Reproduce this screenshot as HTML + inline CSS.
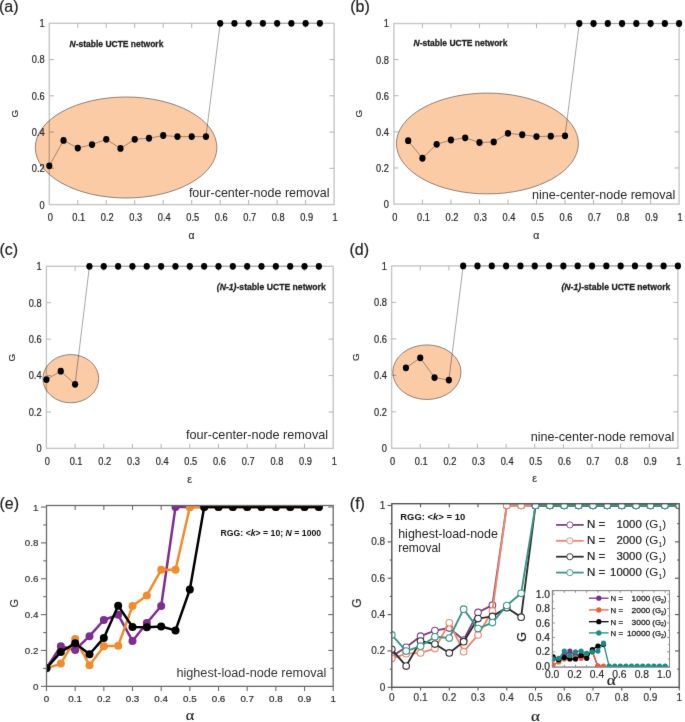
<!DOCTYPE html>
<html><head><meta charset="utf-8"><style>
html,body{margin:0;padding:0;background:#fff;width:685px;height:722px;overflow:hidden;}
svg{display:block;}

</style></head><body>
<svg width="685" height="722" viewBox="0 0 685 722" font-family='"Liberation Sans", sans-serif'>
<defs><filter id="soft" x="0" y="0" width="100%" height="100%" color-interpolation-filters="sRGB"><feConvolveMatrix order="3" kernelMatrix="0.00524 0.06192 0.00524 0.06192 0.73137 0.06192 0.00524 0.06192 0.00524" edgeMode="duplicate"/></filter></defs>
<g filter="url(#soft)">
<rect width="685" height="722" fill="#fff"/>
<ellipse cx="126.1" cy="147.5" rx="90.8" ry="50.5" fill="#FBCBA6" stroke="#85766c" stroke-width="0.9"/>
<g style="mix-blend-mode:multiply">
<rect x="49.3" y="23.3" width="284.8" height="181.3" fill="none" stroke="#c6c6c6" stroke-width="1.4"/>
<line x1="77.78" y1="204.6" x2="77.78" y2="200" stroke="#b4b4b4" stroke-width="1" />
<line x1="77.78" y1="23.3" x2="77.78" y2="27.9" stroke="#b4b4b4" stroke-width="1" />
<line x1="106.26" y1="204.6" x2="106.26" y2="200" stroke="#b4b4b4" stroke-width="1" />
<line x1="106.26" y1="23.3" x2="106.26" y2="27.9" stroke="#b4b4b4" stroke-width="1" />
<line x1="134.74" y1="204.6" x2="134.74" y2="200" stroke="#b4b4b4" stroke-width="1" />
<line x1="134.74" y1="23.3" x2="134.74" y2="27.9" stroke="#b4b4b4" stroke-width="1" />
<line x1="163.22" y1="204.6" x2="163.22" y2="200" stroke="#b4b4b4" stroke-width="1" />
<line x1="163.22" y1="23.3" x2="163.22" y2="27.9" stroke="#b4b4b4" stroke-width="1" />
<line x1="191.7" y1="204.6" x2="191.7" y2="200" stroke="#b4b4b4" stroke-width="1" />
<line x1="191.7" y1="23.3" x2="191.7" y2="27.9" stroke="#b4b4b4" stroke-width="1" />
<line x1="220.18" y1="204.6" x2="220.18" y2="200" stroke="#b4b4b4" stroke-width="1" />
<line x1="220.18" y1="23.3" x2="220.18" y2="27.9" stroke="#b4b4b4" stroke-width="1" />
<line x1="248.66" y1="204.6" x2="248.66" y2="200" stroke="#b4b4b4" stroke-width="1" />
<line x1="248.66" y1="23.3" x2="248.66" y2="27.9" stroke="#b4b4b4" stroke-width="1" />
<line x1="277.14" y1="204.6" x2="277.14" y2="200" stroke="#b4b4b4" stroke-width="1" />
<line x1="277.14" y1="23.3" x2="277.14" y2="27.9" stroke="#b4b4b4" stroke-width="1" />
<line x1="305.62" y1="204.6" x2="305.62" y2="200" stroke="#b4b4b4" stroke-width="1" />
<line x1="305.62" y1="23.3" x2="305.62" y2="27.9" stroke="#b4b4b4" stroke-width="1" />
<line x1="49.3" y1="168.34" x2="53.9" y2="168.34" stroke="#b4b4b4" stroke-width="1" />
<line x1="334.1" y1="168.34" x2="329.5" y2="168.34" stroke="#b4b4b4" stroke-width="1" />
<line x1="49.3" y1="132.08" x2="53.9" y2="132.08" stroke="#b4b4b4" stroke-width="1" />
<line x1="334.1" y1="132.08" x2="329.5" y2="132.08" stroke="#b4b4b4" stroke-width="1" />
<line x1="49.3" y1="95.82" x2="53.9" y2="95.82" stroke="#b4b4b4" stroke-width="1" />
<line x1="334.1" y1="95.82" x2="329.5" y2="95.82" stroke="#b4b4b4" stroke-width="1" />
<line x1="49.3" y1="59.56" x2="53.9" y2="59.56" stroke="#b4b4b4" stroke-width="1" />
<line x1="334.1" y1="59.56" x2="329.5" y2="59.56" stroke="#b4b4b4" stroke-width="1" />
<polyline points="49.3,165.87 63.54,140.42 77.78,148.03 92.02,144.59 106.26,139.33 120.5,148.4 134.74,139.33 148.98,138.24 163.22,135.52 177.46,136.61 191.7,136.61 205.94,136.61 220.18,23.3 234.42,23.3 248.66,23.3 262.9,23.3 277.14,23.3 291.38,23.3 305.62,23.3 319.86,23.3" fill="none" stroke="#a6a6a6" stroke-width="1" stroke-linejoin="round" />
</g>
<ellipse cx="49.3" cy="165.87" rx="3.1" ry="3.4" fill="#000"/>
<ellipse cx="63.54" cy="140.42" rx="3.1" ry="3.4" fill="#000"/>
<ellipse cx="77.78" cy="148.03" rx="3.1" ry="3.4" fill="#000"/>
<ellipse cx="92.02" cy="144.59" rx="3.1" ry="3.4" fill="#000"/>
<ellipse cx="106.26" cy="139.33" rx="3.1" ry="3.4" fill="#000"/>
<ellipse cx="120.5" cy="148.4" rx="3.1" ry="3.4" fill="#000"/>
<ellipse cx="134.74" cy="139.33" rx="3.1" ry="3.4" fill="#000"/>
<ellipse cx="148.98" cy="138.24" rx="3.1" ry="3.4" fill="#000"/>
<ellipse cx="163.22" cy="135.52" rx="3.1" ry="3.4" fill="#000"/>
<ellipse cx="177.46" cy="136.61" rx="3.1" ry="3.4" fill="#000"/>
<ellipse cx="191.7" cy="136.61" rx="3.1" ry="3.4" fill="#000"/>
<ellipse cx="205.94" cy="136.61" rx="3.1" ry="3.4" fill="#000"/>
<ellipse cx="220.18" cy="23.3" rx="3.1" ry="3.4" fill="#000"/>
<ellipse cx="234.42" cy="23.3" rx="3.1" ry="3.4" fill="#000"/>
<ellipse cx="248.66" cy="23.3" rx="3.1" ry="3.4" fill="#000"/>
<ellipse cx="262.9" cy="23.3" rx="3.1" ry="3.4" fill="#000"/>
<ellipse cx="277.14" cy="23.3" rx="3.1" ry="3.4" fill="#000"/>
<ellipse cx="291.38" cy="23.3" rx="3.1" ry="3.4" fill="#000"/>
<ellipse cx="305.62" cy="23.3" rx="3.1" ry="3.4" fill="#000"/>
<ellipse cx="319.86" cy="23.3" rx="3.1" ry="3.4" fill="#000"/>
<text transform="translate(50.3,220.7) scale(0.9,1)" font-size="10.3" text-anchor="middle" fill="#262626" stroke="#262626" stroke-width="0.2">0</text>
<text transform="translate(78.78,220.7) scale(0.9,1)" font-size="10.3" text-anchor="middle" fill="#262626" stroke="#262626" stroke-width="0.2">0.1</text>
<text transform="translate(107.26,220.7) scale(0.9,1)" font-size="10.3" text-anchor="middle" fill="#262626" stroke="#262626" stroke-width="0.2">0.2</text>
<text transform="translate(135.74,220.7) scale(0.9,1)" font-size="10.3" text-anchor="middle" fill="#262626" stroke="#262626" stroke-width="0.2">0.3</text>
<text transform="translate(164.22,220.7) scale(0.9,1)" font-size="10.3" text-anchor="middle" fill="#262626" stroke="#262626" stroke-width="0.2">0.4</text>
<text transform="translate(192.7,220.7) scale(0.9,1)" font-size="10.3" text-anchor="middle" fill="#262626" stroke="#262626" stroke-width="0.2">0.5</text>
<text transform="translate(221.18,220.7) scale(0.9,1)" font-size="10.3" text-anchor="middle" fill="#262626" stroke="#262626" stroke-width="0.2">0.6</text>
<text transform="translate(249.66,220.7) scale(0.9,1)" font-size="10.3" text-anchor="middle" fill="#262626" stroke="#262626" stroke-width="0.2">0.7</text>
<text transform="translate(278.14,220.7) scale(0.9,1)" font-size="10.3" text-anchor="middle" fill="#262626" stroke="#262626" stroke-width="0.2">0.8</text>
<text transform="translate(306.62,220.7) scale(0.9,1)" font-size="10.3" text-anchor="middle" fill="#262626" stroke="#262626" stroke-width="0.2">0.9</text>
<text transform="translate(335.1,220.7) scale(0.9,1)" font-size="10.3" text-anchor="middle" fill="#262626" stroke="#262626" stroke-width="0.2">1</text>
<text transform="translate(44.7,208.5) scale(0.9,1)" font-size="10.3" text-anchor="end" fill="#262626" stroke="#262626" stroke-width="0.2">0</text>
<text transform="translate(44.7,172.24) scale(0.9,1)" font-size="10.3" text-anchor="end" fill="#262626" stroke="#262626" stroke-width="0.2">0.2</text>
<text transform="translate(44.7,135.98) scale(0.9,1)" font-size="10.3" text-anchor="end" fill="#262626" stroke="#262626" stroke-width="0.2">0.4</text>
<text transform="translate(44.7,99.72) scale(0.9,1)" font-size="10.3" text-anchor="end" fill="#262626" stroke="#262626" stroke-width="0.2">0.6</text>
<text transform="translate(44.7,63.46) scale(0.9,1)" font-size="10.3" text-anchor="end" fill="#262626" stroke="#262626" stroke-width="0.2">0.8</text>
<text transform="translate(44.7,27.2) scale(0.9,1)" font-size="10.3" text-anchor="end" fill="#262626" stroke="#262626" stroke-width="0.2">1</text>
<text x="191.5" y="239.3" font-size="10.5" text-anchor="middle" fill="#333" stroke="#333" stroke-width="0.2">α</text>
<text transform="translate(17.6,113.6) rotate(-90)" font-size="9.8" text-anchor="middle" fill="#333" stroke="#333" stroke-width="0.2">G</text>
<text x="-1" y="11.8" font-size="16" fill="#222" stroke="#222" stroke-width="0.2">(a)</text>
<text x="69.6" y="46.6" font-size="9.3" font-weight="bold" fill="#1e1e1e" stroke="#1e1e1e" stroke-width="0.3" textLength="93.8" lengthAdjust="spacingAndGlyphs"><tspan font-style="italic">N</tspan>-stable UCTE network</text>
<text x="188.9" y="196.7" font-size="11.9" fill="#262626" textLength="140.6" lengthAdjust="spacingAndGlyphs">four-center-node removal</text>
<ellipse cx="487.4" cy="143.5" rx="91" ry="50.4" fill="#FBCBA6" stroke="#85766c" stroke-width="0.9"/>
<g style="mix-blend-mode:multiply">
<rect x="393.9" y="23.5" width="285.2" height="180.6" fill="none" stroke="#c6c6c6" stroke-width="1.4"/>
<line x1="422.42" y1="204.1" x2="422.42" y2="199.5" stroke="#b4b4b4" stroke-width="1" />
<line x1="422.42" y1="23.5" x2="422.42" y2="28.1" stroke="#b4b4b4" stroke-width="1" />
<line x1="450.94" y1="204.1" x2="450.94" y2="199.5" stroke="#b4b4b4" stroke-width="1" />
<line x1="450.94" y1="23.5" x2="450.94" y2="28.1" stroke="#b4b4b4" stroke-width="1" />
<line x1="479.46" y1="204.1" x2="479.46" y2="199.5" stroke="#b4b4b4" stroke-width="1" />
<line x1="479.46" y1="23.5" x2="479.46" y2="28.1" stroke="#b4b4b4" stroke-width="1" />
<line x1="507.98" y1="204.1" x2="507.98" y2="199.5" stroke="#b4b4b4" stroke-width="1" />
<line x1="507.98" y1="23.5" x2="507.98" y2="28.1" stroke="#b4b4b4" stroke-width="1" />
<line x1="536.5" y1="204.1" x2="536.5" y2="199.5" stroke="#b4b4b4" stroke-width="1" />
<line x1="536.5" y1="23.5" x2="536.5" y2="28.1" stroke="#b4b4b4" stroke-width="1" />
<line x1="565.02" y1="204.1" x2="565.02" y2="199.5" stroke="#b4b4b4" stroke-width="1" />
<line x1="565.02" y1="23.5" x2="565.02" y2="28.1" stroke="#b4b4b4" stroke-width="1" />
<line x1="593.54" y1="204.1" x2="593.54" y2="199.5" stroke="#b4b4b4" stroke-width="1" />
<line x1="593.54" y1="23.5" x2="593.54" y2="28.1" stroke="#b4b4b4" stroke-width="1" />
<line x1="622.06" y1="204.1" x2="622.06" y2="199.5" stroke="#b4b4b4" stroke-width="1" />
<line x1="622.06" y1="23.5" x2="622.06" y2="28.1" stroke="#b4b4b4" stroke-width="1" />
<line x1="650.58" y1="204.1" x2="650.58" y2="199.5" stroke="#b4b4b4" stroke-width="1" />
<line x1="650.58" y1="23.5" x2="650.58" y2="28.1" stroke="#b4b4b4" stroke-width="1" />
<line x1="393.9" y1="167.98" x2="398.5" y2="167.98" stroke="#b4b4b4" stroke-width="1" />
<line x1="679.1" y1="167.98" x2="674.5" y2="167.98" stroke="#b4b4b4" stroke-width="1" />
<line x1="393.9" y1="131.86" x2="398.5" y2="131.86" stroke="#b4b4b4" stroke-width="1" />
<line x1="679.1" y1="131.86" x2="674.5" y2="131.86" stroke="#b4b4b4" stroke-width="1" />
<line x1="393.9" y1="95.74" x2="398.5" y2="95.74" stroke="#b4b4b4" stroke-width="1" />
<line x1="679.1" y1="95.74" x2="674.5" y2="95.74" stroke="#b4b4b4" stroke-width="1" />
<line x1="393.9" y1="59.62" x2="398.5" y2="59.62" stroke="#b4b4b4" stroke-width="1" />
<line x1="679.1" y1="59.62" x2="674.5" y2="59.62" stroke="#b4b4b4" stroke-width="1" />
<polyline points="408.16,140.71 422.42,158.23 436.68,144.32 450.94,139.99 465.2,137.82 479.46,142.52 493.72,141.97 507.98,133.3 522.24,134.75 536.5,136.56 550.76,136.19 565.02,135.83 579.28,23.5 593.54,23.5 607.8,23.5 622.06,23.5 636.32,23.5 650.58,23.5 664.84,23.5 679.1,23.5" fill="none" stroke="#a6a6a6" stroke-width="1" stroke-linejoin="round" />
</g>
<ellipse cx="408.16" cy="140.71" rx="3.1" ry="3.4" fill="#000"/>
<ellipse cx="422.42" cy="158.23" rx="3.1" ry="3.4" fill="#000"/>
<ellipse cx="436.68" cy="144.32" rx="3.1" ry="3.4" fill="#000"/>
<ellipse cx="450.94" cy="139.99" rx="3.1" ry="3.4" fill="#000"/>
<ellipse cx="465.2" cy="137.82" rx="3.1" ry="3.4" fill="#000"/>
<ellipse cx="479.46" cy="142.52" rx="3.1" ry="3.4" fill="#000"/>
<ellipse cx="493.72" cy="141.97" rx="3.1" ry="3.4" fill="#000"/>
<ellipse cx="507.98" cy="133.3" rx="3.1" ry="3.4" fill="#000"/>
<ellipse cx="522.24" cy="134.75" rx="3.1" ry="3.4" fill="#000"/>
<ellipse cx="536.5" cy="136.56" rx="3.1" ry="3.4" fill="#000"/>
<ellipse cx="550.76" cy="136.19" rx="3.1" ry="3.4" fill="#000"/>
<ellipse cx="565.02" cy="135.83" rx="3.1" ry="3.4" fill="#000"/>
<ellipse cx="579.28" cy="23.5" rx="3.1" ry="3.4" fill="#000"/>
<ellipse cx="593.54" cy="23.5" rx="3.1" ry="3.4" fill="#000"/>
<ellipse cx="607.8" cy="23.5" rx="3.1" ry="3.4" fill="#000"/>
<ellipse cx="622.06" cy="23.5" rx="3.1" ry="3.4" fill="#000"/>
<ellipse cx="636.32" cy="23.5" rx="3.1" ry="3.4" fill="#000"/>
<ellipse cx="650.58" cy="23.5" rx="3.1" ry="3.4" fill="#000"/>
<ellipse cx="664.84" cy="23.5" rx="3.1" ry="3.4" fill="#000"/>
<ellipse cx="679.1" cy="23.5" rx="3.1" ry="3.4" fill="#000"/>
<text transform="translate(394.9,220.6) scale(0.9,1)" font-size="10.3" text-anchor="middle" fill="#262626" stroke="#262626" stroke-width="0.2">0</text>
<text transform="translate(423.42,220.6) scale(0.9,1)" font-size="10.3" text-anchor="middle" fill="#262626" stroke="#262626" stroke-width="0.2">0.1</text>
<text transform="translate(451.94,220.6) scale(0.9,1)" font-size="10.3" text-anchor="middle" fill="#262626" stroke="#262626" stroke-width="0.2">0.2</text>
<text transform="translate(480.46,220.6) scale(0.9,1)" font-size="10.3" text-anchor="middle" fill="#262626" stroke="#262626" stroke-width="0.2">0.3</text>
<text transform="translate(508.98,220.6) scale(0.9,1)" font-size="10.3" text-anchor="middle" fill="#262626" stroke="#262626" stroke-width="0.2">0.4</text>
<text transform="translate(537.5,220.6) scale(0.9,1)" font-size="10.3" text-anchor="middle" fill="#262626" stroke="#262626" stroke-width="0.2">0.5</text>
<text transform="translate(566.02,220.6) scale(0.9,1)" font-size="10.3" text-anchor="middle" fill="#262626" stroke="#262626" stroke-width="0.2">0.6</text>
<text transform="translate(594.54,220.6) scale(0.9,1)" font-size="10.3" text-anchor="middle" fill="#262626" stroke="#262626" stroke-width="0.2">0.7</text>
<text transform="translate(623.06,220.6) scale(0.9,1)" font-size="10.3" text-anchor="middle" fill="#262626" stroke="#262626" stroke-width="0.2">0.8</text>
<text transform="translate(651.58,220.6) scale(0.9,1)" font-size="10.3" text-anchor="middle" fill="#262626" stroke="#262626" stroke-width="0.2">0.9</text>
<text transform="translate(680.1,220.6) scale(0.9,1)" font-size="10.3" text-anchor="middle" fill="#262626" stroke="#262626" stroke-width="0.2">1</text>
<text transform="translate(389,208) scale(0.9,1)" font-size="10.3" text-anchor="end" fill="#262626" stroke="#262626" stroke-width="0.2">0</text>
<text transform="translate(389,171.88) scale(0.9,1)" font-size="10.3" text-anchor="end" fill="#262626" stroke="#262626" stroke-width="0.2">0.2</text>
<text transform="translate(389,135.76) scale(0.9,1)" font-size="10.3" text-anchor="end" fill="#262626" stroke="#262626" stroke-width="0.2">0.4</text>
<text transform="translate(389,99.64) scale(0.9,1)" font-size="10.3" text-anchor="end" fill="#262626" stroke="#262626" stroke-width="0.2">0.6</text>
<text transform="translate(389,63.52) scale(0.9,1)" font-size="10.3" text-anchor="end" fill="#262626" stroke="#262626" stroke-width="0.2">0.8</text>
<text transform="translate(389,27.4) scale(0.9,1)" font-size="10.3" text-anchor="end" fill="#262626" stroke="#262626" stroke-width="0.2">1</text>
<text x="536.4" y="239.3" font-size="10.5" text-anchor="middle" fill="#333" stroke="#333" stroke-width="0.2">α</text>
<text transform="translate(361.8,113.6) rotate(-90)" font-size="9.8" text-anchor="middle" fill="#333" stroke="#333" stroke-width="0.2">G</text>
<text x="350.2" y="11.8" font-size="16" fill="#222" stroke="#222" stroke-width="0.2">(b)</text>
<text x="413.6" y="46.3" font-size="9.3" font-weight="bold" fill="#1e1e1e" stroke="#1e1e1e" stroke-width="0.3" textLength="93.8" lengthAdjust="spacingAndGlyphs"><tspan font-style="italic">N</tspan>-stable UCTE network</text>
<text x="532" y="199.1" font-size="11.9" fill="#262626" textLength="143.4" lengthAdjust="spacingAndGlyphs">nine-center-node removal</text>
<ellipse cx="70.8" cy="378.7" rx="27.9" ry="24.1" fill="#FBCBA6" stroke="#85766c" stroke-width="0.9"/>
<g style="mix-blend-mode:multiply">
<rect x="46.4" y="266.3" width="286.8" height="182.1" fill="none" stroke="#c6c6c6" stroke-width="1.4"/>
<line x1="75.08" y1="448.4" x2="75.08" y2="443.8" stroke="#b4b4b4" stroke-width="1" />
<line x1="75.08" y1="266.3" x2="75.08" y2="270.9" stroke="#b4b4b4" stroke-width="1" />
<line x1="103.76" y1="448.4" x2="103.76" y2="443.8" stroke="#b4b4b4" stroke-width="1" />
<line x1="103.76" y1="266.3" x2="103.76" y2="270.9" stroke="#b4b4b4" stroke-width="1" />
<line x1="132.44" y1="448.4" x2="132.44" y2="443.8" stroke="#b4b4b4" stroke-width="1" />
<line x1="132.44" y1="266.3" x2="132.44" y2="270.9" stroke="#b4b4b4" stroke-width="1" />
<line x1="161.12" y1="448.4" x2="161.12" y2="443.8" stroke="#b4b4b4" stroke-width="1" />
<line x1="161.12" y1="266.3" x2="161.12" y2="270.9" stroke="#b4b4b4" stroke-width="1" />
<line x1="189.8" y1="448.4" x2="189.8" y2="443.8" stroke="#b4b4b4" stroke-width="1" />
<line x1="189.8" y1="266.3" x2="189.8" y2="270.9" stroke="#b4b4b4" stroke-width="1" />
<line x1="218.48" y1="448.4" x2="218.48" y2="443.8" stroke="#b4b4b4" stroke-width="1" />
<line x1="218.48" y1="266.3" x2="218.48" y2="270.9" stroke="#b4b4b4" stroke-width="1" />
<line x1="247.16" y1="448.4" x2="247.16" y2="443.8" stroke="#b4b4b4" stroke-width="1" />
<line x1="247.16" y1="266.3" x2="247.16" y2="270.9" stroke="#b4b4b4" stroke-width="1" />
<line x1="275.84" y1="448.4" x2="275.84" y2="443.8" stroke="#b4b4b4" stroke-width="1" />
<line x1="275.84" y1="266.3" x2="275.84" y2="270.9" stroke="#b4b4b4" stroke-width="1" />
<line x1="304.52" y1="448.4" x2="304.52" y2="443.8" stroke="#b4b4b4" stroke-width="1" />
<line x1="304.52" y1="266.3" x2="304.52" y2="270.9" stroke="#b4b4b4" stroke-width="1" />
<line x1="46.4" y1="411.98" x2="51" y2="411.98" stroke="#b4b4b4" stroke-width="1" />
<line x1="333.2" y1="411.98" x2="328.6" y2="411.98" stroke="#b4b4b4" stroke-width="1" />
<line x1="46.4" y1="375.56" x2="51" y2="375.56" stroke="#b4b4b4" stroke-width="1" />
<line x1="333.2" y1="375.56" x2="328.6" y2="375.56" stroke="#b4b4b4" stroke-width="1" />
<line x1="46.4" y1="339.14" x2="51" y2="339.14" stroke="#b4b4b4" stroke-width="1" />
<line x1="333.2" y1="339.14" x2="328.6" y2="339.14" stroke="#b4b4b4" stroke-width="1" />
<line x1="46.4" y1="302.72" x2="51" y2="302.72" stroke="#b4b4b4" stroke-width="1" />
<line x1="333.2" y1="302.72" x2="328.6" y2="302.72" stroke="#b4b4b4" stroke-width="1" />
<polyline points="46.4,379.57 60.74,371.19 75.08,384.3 89.42,266.3 103.76,266.3 118.1,266.3 132.44,266.3 146.78,266.3 161.12,266.3 175.46,266.3 189.8,266.3 204.14,266.3 218.48,266.3 232.82,266.3 247.16,266.3 261.5,266.3 275.84,266.3 290.18,266.3 304.52,266.3 318.86,266.3" fill="none" stroke="#a6a6a6" stroke-width="1" stroke-linejoin="round" />
</g>
<ellipse cx="46.4" cy="379.57" rx="3.1" ry="3.4" fill="#000"/>
<ellipse cx="60.74" cy="371.19" rx="3.1" ry="3.4" fill="#000"/>
<ellipse cx="75.08" cy="384.3" rx="3.1" ry="3.4" fill="#000"/>
<ellipse cx="89.42" cy="266.3" rx="3.1" ry="3.4" fill="#000"/>
<ellipse cx="103.76" cy="266.3" rx="3.1" ry="3.4" fill="#000"/>
<ellipse cx="118.1" cy="266.3" rx="3.1" ry="3.4" fill="#000"/>
<ellipse cx="132.44" cy="266.3" rx="3.1" ry="3.4" fill="#000"/>
<ellipse cx="146.78" cy="266.3" rx="3.1" ry="3.4" fill="#000"/>
<ellipse cx="161.12" cy="266.3" rx="3.1" ry="3.4" fill="#000"/>
<ellipse cx="175.46" cy="266.3" rx="3.1" ry="3.4" fill="#000"/>
<ellipse cx="189.8" cy="266.3" rx="3.1" ry="3.4" fill="#000"/>
<ellipse cx="204.14" cy="266.3" rx="3.1" ry="3.4" fill="#000"/>
<ellipse cx="218.48" cy="266.3" rx="3.1" ry="3.4" fill="#000"/>
<ellipse cx="232.82" cy="266.3" rx="3.1" ry="3.4" fill="#000"/>
<ellipse cx="247.16" cy="266.3" rx="3.1" ry="3.4" fill="#000"/>
<ellipse cx="261.5" cy="266.3" rx="3.1" ry="3.4" fill="#000"/>
<ellipse cx="275.84" cy="266.3" rx="3.1" ry="3.4" fill="#000"/>
<ellipse cx="290.18" cy="266.3" rx="3.1" ry="3.4" fill="#000"/>
<ellipse cx="304.52" cy="266.3" rx="3.1" ry="3.4" fill="#000"/>
<ellipse cx="318.86" cy="266.3" rx="3.1" ry="3.4" fill="#000"/>
<text transform="translate(47.4,465.2) scale(0.9,1)" font-size="10.3" text-anchor="middle" fill="#262626" stroke="#262626" stroke-width="0.2">0</text>
<text transform="translate(76.08,465.2) scale(0.9,1)" font-size="10.3" text-anchor="middle" fill="#262626" stroke="#262626" stroke-width="0.2">0.1</text>
<text transform="translate(104.76,465.2) scale(0.9,1)" font-size="10.3" text-anchor="middle" fill="#262626" stroke="#262626" stroke-width="0.2">0.2</text>
<text transform="translate(133.44,465.2) scale(0.9,1)" font-size="10.3" text-anchor="middle" fill="#262626" stroke="#262626" stroke-width="0.2">0.3</text>
<text transform="translate(162.12,465.2) scale(0.9,1)" font-size="10.3" text-anchor="middle" fill="#262626" stroke="#262626" stroke-width="0.2">0.4</text>
<text transform="translate(190.8,465.2) scale(0.9,1)" font-size="10.3" text-anchor="middle" fill="#262626" stroke="#262626" stroke-width="0.2">0.5</text>
<text transform="translate(219.48,465.2) scale(0.9,1)" font-size="10.3" text-anchor="middle" fill="#262626" stroke="#262626" stroke-width="0.2">0.6</text>
<text transform="translate(248.16,465.2) scale(0.9,1)" font-size="10.3" text-anchor="middle" fill="#262626" stroke="#262626" stroke-width="0.2">0.7</text>
<text transform="translate(276.84,465.2) scale(0.9,1)" font-size="10.3" text-anchor="middle" fill="#262626" stroke="#262626" stroke-width="0.2">0.8</text>
<text transform="translate(305.52,465.2) scale(0.9,1)" font-size="10.3" text-anchor="middle" fill="#262626" stroke="#262626" stroke-width="0.2">0.9</text>
<text transform="translate(334.2,465.2) scale(0.9,1)" font-size="10.3" text-anchor="middle" fill="#262626" stroke="#262626" stroke-width="0.2">1</text>
<text transform="translate(41.6,452.3) scale(0.9,1)" font-size="10.3" text-anchor="end" fill="#262626" stroke="#262626" stroke-width="0.2">0</text>
<text transform="translate(41.6,415.88) scale(0.9,1)" font-size="10.3" text-anchor="end" fill="#262626" stroke="#262626" stroke-width="0.2">0.2</text>
<text transform="translate(41.6,379.46) scale(0.9,1)" font-size="10.3" text-anchor="end" fill="#262626" stroke="#262626" stroke-width="0.2">0.4</text>
<text transform="translate(41.6,343.04) scale(0.9,1)" font-size="10.3" text-anchor="end" fill="#262626" stroke="#262626" stroke-width="0.2">0.6</text>
<text transform="translate(41.6,306.62) scale(0.9,1)" font-size="10.3" text-anchor="end" fill="#262626" stroke="#262626" stroke-width="0.2">0.8</text>
<text transform="translate(41.6,270.2) scale(0.9,1)" font-size="10.3" text-anchor="end" fill="#262626" stroke="#262626" stroke-width="0.2">1</text>
<text x="189.6" y="482.5" font-size="10.5" text-anchor="middle" fill="#333" stroke="#333" stroke-width="0.2">ε</text>
<text transform="translate(14.5,357.6) rotate(-90)" font-size="9.8" text-anchor="middle" fill="#333" stroke="#333" stroke-width="0.2">G</text>
<text x="-0.6" y="255.2" font-size="16" fill="#222" stroke="#222" stroke-width="0.2">(c)</text>
<text x="216.8" y="290.3" font-size="9.3" font-weight="bold" fill="#1e1e1e" stroke="#1e1e1e" stroke-width="0.3" textLength="108.9" lengthAdjust="spacingAndGlyphs"><tspan font-style="italic">(N-1)</tspan>-stable UCTE network</text>
<text x="186" y="439.3" font-size="11.9" fill="#262626" textLength="142.1" lengthAdjust="spacingAndGlyphs">four-center-node removal</text>
<ellipse cx="426.9" cy="372.2" rx="34.1" ry="27.3" fill="#FBCBA6" stroke="#85766c" stroke-width="0.9"/>
<g style="mix-blend-mode:multiply">
<rect x="391.6" y="265.9" width="286.3" height="182.4" fill="none" stroke="#c6c6c6" stroke-width="1.4"/>
<line x1="420.23" y1="448.3" x2="420.23" y2="443.7" stroke="#b4b4b4" stroke-width="1" />
<line x1="420.23" y1="265.9" x2="420.23" y2="270.5" stroke="#b4b4b4" stroke-width="1" />
<line x1="448.86" y1="448.3" x2="448.86" y2="443.7" stroke="#b4b4b4" stroke-width="1" />
<line x1="448.86" y1="265.9" x2="448.86" y2="270.5" stroke="#b4b4b4" stroke-width="1" />
<line x1="477.49" y1="448.3" x2="477.49" y2="443.7" stroke="#b4b4b4" stroke-width="1" />
<line x1="477.49" y1="265.9" x2="477.49" y2="270.5" stroke="#b4b4b4" stroke-width="1" />
<line x1="506.12" y1="448.3" x2="506.12" y2="443.7" stroke="#b4b4b4" stroke-width="1" />
<line x1="506.12" y1="265.9" x2="506.12" y2="270.5" stroke="#b4b4b4" stroke-width="1" />
<line x1="534.75" y1="448.3" x2="534.75" y2="443.7" stroke="#b4b4b4" stroke-width="1" />
<line x1="534.75" y1="265.9" x2="534.75" y2="270.5" stroke="#b4b4b4" stroke-width="1" />
<line x1="563.38" y1="448.3" x2="563.38" y2="443.7" stroke="#b4b4b4" stroke-width="1" />
<line x1="563.38" y1="265.9" x2="563.38" y2="270.5" stroke="#b4b4b4" stroke-width="1" />
<line x1="592.01" y1="448.3" x2="592.01" y2="443.7" stroke="#b4b4b4" stroke-width="1" />
<line x1="592.01" y1="265.9" x2="592.01" y2="270.5" stroke="#b4b4b4" stroke-width="1" />
<line x1="620.64" y1="448.3" x2="620.64" y2="443.7" stroke="#b4b4b4" stroke-width="1" />
<line x1="620.64" y1="265.9" x2="620.64" y2="270.5" stroke="#b4b4b4" stroke-width="1" />
<line x1="649.27" y1="448.3" x2="649.27" y2="443.7" stroke="#b4b4b4" stroke-width="1" />
<line x1="649.27" y1="265.9" x2="649.27" y2="270.5" stroke="#b4b4b4" stroke-width="1" />
<line x1="391.6" y1="411.82" x2="396.2" y2="411.82" stroke="#b4b4b4" stroke-width="1" />
<line x1="677.9" y1="411.82" x2="673.3" y2="411.82" stroke="#b4b4b4" stroke-width="1" />
<line x1="391.6" y1="375.34" x2="396.2" y2="375.34" stroke="#b4b4b4" stroke-width="1" />
<line x1="677.9" y1="375.34" x2="673.3" y2="375.34" stroke="#b4b4b4" stroke-width="1" />
<line x1="391.6" y1="338.86" x2="396.2" y2="338.86" stroke="#b4b4b4" stroke-width="1" />
<line x1="677.9" y1="338.86" x2="673.3" y2="338.86" stroke="#b4b4b4" stroke-width="1" />
<line x1="391.6" y1="302.38" x2="396.2" y2="302.38" stroke="#b4b4b4" stroke-width="1" />
<line x1="677.9" y1="302.38" x2="673.3" y2="302.38" stroke="#b4b4b4" stroke-width="1" />
<polyline points="405.92,367.86 420.23,357.83 434.55,377.53 448.86,380.08 463.18,265.9 477.49,265.9 491.81,265.9 506.12,265.9 520.43,265.9 534.75,265.9 549.07,265.9 563.38,265.9 577.69,265.9 592.01,265.9 606.33,265.9 620.64,265.9 634.96,265.9 649.27,265.9 663.59,265.9 677.9,265.9" fill="none" stroke="#a6a6a6" stroke-width="1" stroke-linejoin="round" />
</g>
<ellipse cx="405.92" cy="367.86" rx="3.1" ry="3.4" fill="#000"/>
<ellipse cx="420.23" cy="357.83" rx="3.1" ry="3.4" fill="#000"/>
<ellipse cx="434.55" cy="377.53" rx="3.1" ry="3.4" fill="#000"/>
<ellipse cx="448.86" cy="380.08" rx="3.1" ry="3.4" fill="#000"/>
<ellipse cx="463.18" cy="265.9" rx="3.1" ry="3.4" fill="#000"/>
<ellipse cx="477.49" cy="265.9" rx="3.1" ry="3.4" fill="#000"/>
<ellipse cx="491.81" cy="265.9" rx="3.1" ry="3.4" fill="#000"/>
<ellipse cx="506.12" cy="265.9" rx="3.1" ry="3.4" fill="#000"/>
<ellipse cx="520.43" cy="265.9" rx="3.1" ry="3.4" fill="#000"/>
<ellipse cx="534.75" cy="265.9" rx="3.1" ry="3.4" fill="#000"/>
<ellipse cx="549.07" cy="265.9" rx="3.1" ry="3.4" fill="#000"/>
<ellipse cx="563.38" cy="265.9" rx="3.1" ry="3.4" fill="#000"/>
<ellipse cx="577.69" cy="265.9" rx="3.1" ry="3.4" fill="#000"/>
<ellipse cx="592.01" cy="265.9" rx="3.1" ry="3.4" fill="#000"/>
<ellipse cx="606.33" cy="265.9" rx="3.1" ry="3.4" fill="#000"/>
<ellipse cx="620.64" cy="265.9" rx="3.1" ry="3.4" fill="#000"/>
<ellipse cx="634.96" cy="265.9" rx="3.1" ry="3.4" fill="#000"/>
<ellipse cx="649.27" cy="265.9" rx="3.1" ry="3.4" fill="#000"/>
<ellipse cx="663.59" cy="265.9" rx="3.1" ry="3.4" fill="#000"/>
<ellipse cx="677.9" cy="265.9" rx="3.1" ry="3.4" fill="#000"/>
<text transform="translate(392.6,464.8) scale(0.9,1)" font-size="10.3" text-anchor="middle" fill="#262626" stroke="#262626" stroke-width="0.2">0</text>
<text transform="translate(421.23,464.8) scale(0.9,1)" font-size="10.3" text-anchor="middle" fill="#262626" stroke="#262626" stroke-width="0.2">0.1</text>
<text transform="translate(449.86,464.8) scale(0.9,1)" font-size="10.3" text-anchor="middle" fill="#262626" stroke="#262626" stroke-width="0.2">0.2</text>
<text transform="translate(478.49,464.8) scale(0.9,1)" font-size="10.3" text-anchor="middle" fill="#262626" stroke="#262626" stroke-width="0.2">0.3</text>
<text transform="translate(507.12,464.8) scale(0.9,1)" font-size="10.3" text-anchor="middle" fill="#262626" stroke="#262626" stroke-width="0.2">0.4</text>
<text transform="translate(535.75,464.8) scale(0.9,1)" font-size="10.3" text-anchor="middle" fill="#262626" stroke="#262626" stroke-width="0.2">0.5</text>
<text transform="translate(564.38,464.8) scale(0.9,1)" font-size="10.3" text-anchor="middle" fill="#262626" stroke="#262626" stroke-width="0.2">0.6</text>
<text transform="translate(593.01,464.8) scale(0.9,1)" font-size="10.3" text-anchor="middle" fill="#262626" stroke="#262626" stroke-width="0.2">0.7</text>
<text transform="translate(621.64,464.8) scale(0.9,1)" font-size="10.3" text-anchor="middle" fill="#262626" stroke="#262626" stroke-width="0.2">0.8</text>
<text transform="translate(650.27,464.8) scale(0.9,1)" font-size="10.3" text-anchor="middle" fill="#262626" stroke="#262626" stroke-width="0.2">0.9</text>
<text transform="translate(678.9,464.8) scale(0.9,1)" font-size="10.3" text-anchor="middle" fill="#262626" stroke="#262626" stroke-width="0.2">1</text>
<text transform="translate(387,452.2) scale(0.9,1)" font-size="10.3" text-anchor="end" fill="#262626" stroke="#262626" stroke-width="0.2">0</text>
<text transform="translate(387,415.72) scale(0.9,1)" font-size="10.3" text-anchor="end" fill="#262626" stroke="#262626" stroke-width="0.2">0.2</text>
<text transform="translate(387,379.24) scale(0.9,1)" font-size="10.3" text-anchor="end" fill="#262626" stroke="#262626" stroke-width="0.2">0.4</text>
<text transform="translate(387,342.76) scale(0.9,1)" font-size="10.3" text-anchor="end" fill="#262626" stroke="#262626" stroke-width="0.2">0.6</text>
<text transform="translate(387,306.28) scale(0.9,1)" font-size="10.3" text-anchor="end" fill="#262626" stroke="#262626" stroke-width="0.2">0.8</text>
<text transform="translate(387,269.8) scale(0.9,1)" font-size="10.3" text-anchor="end" fill="#262626" stroke="#262626" stroke-width="0.2">1</text>
<text x="534.5" y="482" font-size="10.5" text-anchor="middle" fill="#333" stroke="#333" stroke-width="0.2">ε</text>
<text transform="translate(359.4,357.3) rotate(-90)" font-size="9.8" text-anchor="middle" fill="#333" stroke="#333" stroke-width="0.2">G</text>
<text x="349.5" y="255.2" font-size="16" fill="#222" stroke="#222" stroke-width="0.2">(d)</text>
<text x="561.5" y="289.7" font-size="9.3" font-weight="bold" fill="#1e1e1e" stroke="#1e1e1e" stroke-width="0.3" textLength="108.9" lengthAdjust="spacingAndGlyphs"><tspan font-style="italic">(N-1)</tspan>-stable UCTE network</text>
<text x="530.8" y="440.7" font-size="11.9" fill="#262626" textLength="143.4" lengthAdjust="spacingAndGlyphs">nine-center-node removal</text>
<defs><clipPath id="ce"><rect x="46.5" y="505.5" width="286.7" height="180.85"/></clipPath></defs>
<line x1="46.5" y1="686.35" x2="46.5" y2="691.05" stroke="#6a6a6a" stroke-width="1.1" />
<line x1="75.17" y1="686.35" x2="75.17" y2="691.05" stroke="#6a6a6a" stroke-width="1.1" />
<line x1="75.17" y1="505.5" x2="75.17" y2="510.1" stroke="#6a6a6a" stroke-width="1.1" />
<line x1="103.84" y1="686.35" x2="103.84" y2="691.05" stroke="#6a6a6a" stroke-width="1.1" />
<line x1="103.84" y1="505.5" x2="103.84" y2="510.1" stroke="#6a6a6a" stroke-width="1.1" />
<line x1="132.51" y1="686.35" x2="132.51" y2="691.05" stroke="#6a6a6a" stroke-width="1.1" />
<line x1="132.51" y1="505.5" x2="132.51" y2="510.1" stroke="#6a6a6a" stroke-width="1.1" />
<line x1="161.18" y1="686.35" x2="161.18" y2="691.05" stroke="#6a6a6a" stroke-width="1.1" />
<line x1="161.18" y1="505.5" x2="161.18" y2="510.1" stroke="#6a6a6a" stroke-width="1.1" />
<line x1="189.85" y1="686.35" x2="189.85" y2="691.05" stroke="#6a6a6a" stroke-width="1.1" />
<line x1="189.85" y1="505.5" x2="189.85" y2="510.1" stroke="#6a6a6a" stroke-width="1.1" />
<line x1="218.52" y1="686.35" x2="218.52" y2="691.05" stroke="#6a6a6a" stroke-width="1.1" />
<line x1="218.52" y1="505.5" x2="218.52" y2="510.1" stroke="#6a6a6a" stroke-width="1.1" />
<line x1="247.19" y1="686.35" x2="247.19" y2="691.05" stroke="#6a6a6a" stroke-width="1.1" />
<line x1="247.19" y1="505.5" x2="247.19" y2="510.1" stroke="#6a6a6a" stroke-width="1.1" />
<line x1="275.86" y1="686.35" x2="275.86" y2="691.05" stroke="#6a6a6a" stroke-width="1.1" />
<line x1="275.86" y1="505.5" x2="275.86" y2="510.1" stroke="#6a6a6a" stroke-width="1.1" />
<line x1="304.53" y1="686.35" x2="304.53" y2="691.05" stroke="#6a6a6a" stroke-width="1.1" />
<line x1="304.53" y1="505.5" x2="304.53" y2="510.1" stroke="#6a6a6a" stroke-width="1.1" />
<line x1="333.2" y1="686.35" x2="333.2" y2="691.05" stroke="#6a6a6a" stroke-width="1.1" />
<line x1="46.5" y1="686.35" x2="41" y2="686.35" stroke="#6a6a6a" stroke-width="1.1" />
<line x1="46.5" y1="668.41" x2="43.3" y2="668.41" stroke="#6a6a6a" stroke-width="1.1" />
<line x1="333.2" y1="668.41" x2="330.5" y2="668.41" stroke="#6a6a6a" stroke-width="1.1" />
<line x1="46.5" y1="650.48" x2="41" y2="650.48" stroke="#6a6a6a" stroke-width="1.1" />
<line x1="333.2" y1="650.48" x2="328.2" y2="650.48" stroke="#6a6a6a" stroke-width="1.1" />
<line x1="46.5" y1="632.55" x2="43.3" y2="632.55" stroke="#6a6a6a" stroke-width="1.1" />
<line x1="333.2" y1="632.55" x2="330.5" y2="632.55" stroke="#6a6a6a" stroke-width="1.1" />
<line x1="46.5" y1="614.61" x2="41" y2="614.61" stroke="#6a6a6a" stroke-width="1.1" />
<line x1="333.2" y1="614.61" x2="328.2" y2="614.61" stroke="#6a6a6a" stroke-width="1.1" />
<line x1="46.5" y1="596.67" x2="43.3" y2="596.67" stroke="#6a6a6a" stroke-width="1.1" />
<line x1="333.2" y1="596.67" x2="330.5" y2="596.67" stroke="#6a6a6a" stroke-width="1.1" />
<line x1="46.5" y1="578.74" x2="41" y2="578.74" stroke="#6a6a6a" stroke-width="1.1" />
<line x1="333.2" y1="578.74" x2="328.2" y2="578.74" stroke="#6a6a6a" stroke-width="1.1" />
<line x1="46.5" y1="560.81" x2="43.3" y2="560.81" stroke="#6a6a6a" stroke-width="1.1" />
<line x1="333.2" y1="560.81" x2="330.5" y2="560.81" stroke="#6a6a6a" stroke-width="1.1" />
<line x1="46.5" y1="542.87" x2="41" y2="542.87" stroke="#6a6a6a" stroke-width="1.1" />
<line x1="333.2" y1="542.87" x2="328.2" y2="542.87" stroke="#6a6a6a" stroke-width="1.1" />
<line x1="46.5" y1="524.93" x2="43.3" y2="524.93" stroke="#6a6a6a" stroke-width="1.1" />
<line x1="333.2" y1="524.93" x2="330.5" y2="524.93" stroke="#6a6a6a" stroke-width="1.1" />
<line x1="46.5" y1="507" x2="41" y2="507" stroke="#6a6a6a" stroke-width="1.1" />
<line x1="333.2" y1="507" x2="328.2" y2="507" stroke="#6a6a6a" stroke-width="1.1" />
<text x="46.5" y="701.5" font-size="9.8" text-anchor="middle" fill="#2a2a2a" stroke="#2a2a2a" stroke-width="0.2">0</text>
<text x="75.17" y="701.5" font-size="9.8" text-anchor="middle" fill="#2a2a2a" stroke="#2a2a2a" stroke-width="0.2">0.1</text>
<text x="103.84" y="701.5" font-size="9.8" text-anchor="middle" fill="#2a2a2a" stroke="#2a2a2a" stroke-width="0.2">0.2</text>
<text x="132.51" y="701.5" font-size="9.8" text-anchor="middle" fill="#2a2a2a" stroke="#2a2a2a" stroke-width="0.2">0.3</text>
<text x="161.18" y="701.5" font-size="9.8" text-anchor="middle" fill="#2a2a2a" stroke="#2a2a2a" stroke-width="0.2">0.4</text>
<text x="189.85" y="701.5" font-size="9.8" text-anchor="middle" fill="#2a2a2a" stroke="#2a2a2a" stroke-width="0.2">0.5</text>
<text x="218.52" y="701.5" font-size="9.8" text-anchor="middle" fill="#2a2a2a" stroke="#2a2a2a" stroke-width="0.2">0.6</text>
<text x="247.19" y="701.5" font-size="9.8" text-anchor="middle" fill="#2a2a2a" stroke="#2a2a2a" stroke-width="0.2">0.7</text>
<text x="275.86" y="701.5" font-size="9.8" text-anchor="middle" fill="#2a2a2a" stroke="#2a2a2a" stroke-width="0.2">0.8</text>
<text x="304.53" y="701.5" font-size="9.8" text-anchor="middle" fill="#2a2a2a" stroke="#2a2a2a" stroke-width="0.2">0.9</text>
<text x="333.2" y="701.5" font-size="9.8" text-anchor="middle" fill="#2a2a2a" stroke="#2a2a2a" stroke-width="0.2">1</text>
<text x="38.4" y="689.85" font-size="9.8" text-anchor="end" fill="#333" stroke="#333" stroke-width="0.2">0</text>
<text x="38.4" y="653.98" font-size="9.8" text-anchor="end" fill="#333" stroke="#333" stroke-width="0.2">0.2</text>
<text x="38.4" y="618.11" font-size="9.8" text-anchor="end" fill="#333" stroke="#333" stroke-width="0.2">0.4</text>
<text x="38.4" y="582.24" font-size="9.8" text-anchor="end" fill="#333" stroke="#333" stroke-width="0.2">0.6</text>
<text x="38.4" y="546.37" font-size="9.8" text-anchor="end" fill="#333" stroke="#333" stroke-width="0.2">0.8</text>
<text x="38.4" y="510.5" font-size="9.8" text-anchor="end" fill="#333" stroke="#333" stroke-width="0.2">1</text>
<g clip-path="url(#ce)">
<polyline points="46.5,668.06 60.84,646.18 75.17,649.94 89.5,636.13 103.84,619.99 118.17,614.79 132.51,640.97 146.84,623.04 161.18,606 175.51,507 189.85,507 204.19,507 218.52,507 232.85,507 247.19,507 261.52,507 275.86,507 290.2,507 304.53,507 318.87,507" fill="none" stroke="#7e2d90" stroke-width="2.5" stroke-linejoin="round" />
<circle cx="46.5" cy="668.06" r="4.0" fill="#7e2d90"/>
<circle cx="60.84" cy="646.18" r="4.0" fill="#7e2d90"/>
<circle cx="75.17" cy="649.94" r="4.0" fill="#7e2d90"/>
<circle cx="89.5" cy="636.13" r="4.0" fill="#7e2d90"/>
<circle cx="103.84" cy="619.99" r="4.0" fill="#7e2d90"/>
<circle cx="118.17" cy="614.79" r="4.0" fill="#7e2d90"/>
<circle cx="132.51" cy="640.97" r="4.0" fill="#7e2d90"/>
<circle cx="146.84" cy="623.04" r="4.0" fill="#7e2d90"/>
<circle cx="161.18" cy="606" r="4.0" fill="#7e2d90"/>
<circle cx="175.51" cy="507" r="4.0" fill="#7e2d90"/>
<circle cx="189.85" cy="507" r="4.0" fill="#7e2d90"/>
<circle cx="204.19" cy="507" r="4.0" fill="#7e2d90"/>
<circle cx="218.52" cy="507" r="4.0" fill="#7e2d90"/>
<circle cx="232.85" cy="507" r="4.0" fill="#7e2d90"/>
<circle cx="247.19" cy="507" r="4.0" fill="#7e2d90"/>
<circle cx="261.52" cy="507" r="4.0" fill="#7e2d90"/>
<circle cx="275.86" cy="507" r="4.0" fill="#7e2d90"/>
<circle cx="290.2" cy="507" r="4.0" fill="#7e2d90"/>
<circle cx="304.53" cy="507" r="4.0" fill="#7e2d90"/>
<circle cx="318.87" cy="507" r="4.0" fill="#7e2d90"/>
<polyline points="46.5,668.41 60.84,663.57 75.17,639 89.5,665.19 103.84,646.18 118.17,645.82 132.51,606 146.84,595.42 161.18,569.77 175.51,569.77 189.85,507 204.19,507 218.52,507 232.85,507 247.19,507 261.52,507 275.86,507 290.2,507 304.53,507 318.87,507" fill="none" stroke="#f18b2b" stroke-width="2.5" stroke-linejoin="round" />
<circle cx="46.5" cy="668.41" r="4.0" fill="#f18b2b"/>
<circle cx="60.84" cy="663.57" r="4.0" fill="#f18b2b"/>
<circle cx="75.17" cy="639" r="4.0" fill="#f18b2b"/>
<circle cx="89.5" cy="665.19" r="4.0" fill="#f18b2b"/>
<circle cx="103.84" cy="646.18" r="4.0" fill="#f18b2b"/>
<circle cx="118.17" cy="645.82" r="4.0" fill="#f18b2b"/>
<circle cx="132.51" cy="606" r="4.0" fill="#f18b2b"/>
<circle cx="146.84" cy="595.42" r="4.0" fill="#f18b2b"/>
<circle cx="161.18" cy="569.77" r="4.0" fill="#f18b2b"/>
<circle cx="175.51" cy="569.77" r="4.0" fill="#f18b2b"/>
<circle cx="189.85" cy="507" r="4.0" fill="#f18b2b"/>
<circle cx="204.19" cy="507" r="4.0" fill="#f18b2b"/>
<circle cx="218.52" cy="507" r="4.0" fill="#f18b2b"/>
<circle cx="232.85" cy="507" r="4.0" fill="#f18b2b"/>
<circle cx="247.19" cy="507" r="4.0" fill="#f18b2b"/>
<circle cx="261.52" cy="507" r="4.0" fill="#f18b2b"/>
<circle cx="275.86" cy="507" r="4.0" fill="#f18b2b"/>
<circle cx="290.2" cy="507" r="4.0" fill="#f18b2b"/>
<circle cx="304.53" cy="507" r="4.0" fill="#f18b2b"/>
<circle cx="318.87" cy="507" r="4.0" fill="#f18b2b"/>
<polyline points="46.5,668.06 60.84,651.91 75.17,643.31 89.5,654.25 103.84,637.93 118.17,605.64 132.51,626.99 146.84,627.34 161.18,626.45 175.51,630.39 189.85,589.5 204.19,507 218.52,507 232.85,507 247.19,507 261.52,507 275.86,507 290.2,507 304.53,507 318.87,507" fill="none" stroke="#000" stroke-width="2.5" stroke-linejoin="round" />
<circle cx="46.5" cy="668.06" r="4.0" fill="#000"/>
<circle cx="60.84" cy="651.91" r="4.0" fill="#000"/>
<circle cx="75.17" cy="643.31" r="4.0" fill="#000"/>
<circle cx="89.5" cy="654.25" r="4.0" fill="#000"/>
<circle cx="103.84" cy="637.93" r="4.0" fill="#000"/>
<circle cx="118.17" cy="605.64" r="4.0" fill="#000"/>
<circle cx="132.51" cy="626.99" r="4.0" fill="#000"/>
<circle cx="146.84" cy="627.34" r="4.0" fill="#000"/>
<circle cx="161.18" cy="626.45" r="4.0" fill="#000"/>
<circle cx="175.51" cy="630.39" r="4.0" fill="#000"/>
<circle cx="189.85" cy="589.5" r="4.0" fill="#000"/>
<circle cx="204.19" cy="507" r="4.0" fill="#000"/>
<circle cx="218.52" cy="507" r="4.0" fill="#000"/>
<circle cx="232.85" cy="507" r="4.0" fill="#000"/>
<circle cx="247.19" cy="507" r="4.0" fill="#000"/>
<circle cx="261.52" cy="507" r="4.0" fill="#000"/>
<circle cx="275.86" cy="507" r="4.0" fill="#000"/>
<circle cx="290.2" cy="507" r="4.0" fill="#000"/>
<circle cx="304.53" cy="507" r="4.0" fill="#000"/>
<circle cx="318.87" cy="507" r="4.0" fill="#000"/>
</g>
<rect x="46.5" y="505.5" width="286.7" height="180.85" fill="none" stroke="#6a6a6a" stroke-width="1.3"/>
<text transform="translate(189.9,719.6) scale(1.05,1)" font-size="15.5" text-anchor="middle" font-family='"Liberation Serif", serif' fill="#222" stroke="#222" stroke-width="0.2">α</text>
<text transform="translate(17.5,603.2) rotate(-90)" font-size="10.8" text-anchor="middle" fill="#333" stroke="#333" stroke-width="0.2">G</text>
<text x="-0.6" y="508.6" font-size="16" fill="#222" stroke="#222" stroke-width="0.2">(e)</text>
<text x="220.5" y="536.3" font-size="8.3" font-weight="bold" fill="#111" textLength="100.7" lengthAdjust="spacingAndGlyphs">RGG: &lt;<tspan font-style="italic">k</tspan>&gt; = 10; <tspan font-style="italic">N</tspan> = 1000</text>
<text x="176.4" y="676.7" font-size="12" fill="#333" textLength="150" lengthAdjust="spacingAndGlyphs">highest-load-node removal</text>
<defs><clipPath id="cf"><rect x="391.8" y="503.7" width="287.4" height="183.6"/></clipPath></defs>
<line x1="391.8" y1="687.3" x2="391.8" y2="690.5" stroke="#555" stroke-width="1.1" />
<line x1="420.54" y1="687.3" x2="420.54" y2="690.5" stroke="#555" stroke-width="1.1" />
<line x1="420.54" y1="503.7" x2="420.54" y2="507.2" stroke="#555" stroke-width="1.1" />
<line x1="449.28" y1="687.3" x2="449.28" y2="690.5" stroke="#555" stroke-width="1.1" />
<line x1="449.28" y1="503.7" x2="449.28" y2="507.2" stroke="#555" stroke-width="1.1" />
<line x1="478.02" y1="687.3" x2="478.02" y2="690.5" stroke="#555" stroke-width="1.1" />
<line x1="478.02" y1="503.7" x2="478.02" y2="507.2" stroke="#555" stroke-width="1.1" />
<line x1="506.76" y1="687.3" x2="506.76" y2="690.5" stroke="#555" stroke-width="1.1" />
<line x1="506.76" y1="503.7" x2="506.76" y2="507.2" stroke="#555" stroke-width="1.1" />
<line x1="535.5" y1="687.3" x2="535.5" y2="690.5" stroke="#555" stroke-width="1.1" />
<line x1="535.5" y1="503.7" x2="535.5" y2="507.2" stroke="#555" stroke-width="1.1" />
<line x1="564.24" y1="687.3" x2="564.24" y2="690.5" stroke="#555" stroke-width="1.1" />
<line x1="564.24" y1="503.7" x2="564.24" y2="507.2" stroke="#555" stroke-width="1.1" />
<line x1="592.98" y1="687.3" x2="592.98" y2="690.5" stroke="#555" stroke-width="1.1" />
<line x1="592.98" y1="503.7" x2="592.98" y2="507.2" stroke="#555" stroke-width="1.1" />
<line x1="621.72" y1="687.3" x2="621.72" y2="690.5" stroke="#555" stroke-width="1.1" />
<line x1="621.72" y1="503.7" x2="621.72" y2="507.2" stroke="#555" stroke-width="1.1" />
<line x1="650.46" y1="687.3" x2="650.46" y2="690.5" stroke="#555" stroke-width="1.1" />
<line x1="650.46" y1="503.7" x2="650.46" y2="507.2" stroke="#555" stroke-width="1.1" />
<line x1="679.2" y1="687.3" x2="679.2" y2="690.5" stroke="#555" stroke-width="1.1" />
<line x1="391.8" y1="687.3" x2="387.6" y2="687.3" stroke="#555" stroke-width="1.1" />
<line x1="391.8" y1="669.12" x2="389.8" y2="669.12" stroke="#555" stroke-width="1.1" />
<line x1="679.2" y1="669.12" x2="677.2" y2="669.12" stroke="#555" stroke-width="1.1" />
<line x1="391.8" y1="650.94" x2="387.6" y2="650.94" stroke="#555" stroke-width="1.1" />
<line x1="679.2" y1="650.94" x2="675" y2="650.94" stroke="#555" stroke-width="1.1" />
<line x1="391.8" y1="632.76" x2="389.8" y2="632.76" stroke="#555" stroke-width="1.1" />
<line x1="679.2" y1="632.76" x2="677.2" y2="632.76" stroke="#555" stroke-width="1.1" />
<line x1="391.8" y1="614.58" x2="387.6" y2="614.58" stroke="#555" stroke-width="1.1" />
<line x1="679.2" y1="614.58" x2="675" y2="614.58" stroke="#555" stroke-width="1.1" />
<line x1="391.8" y1="596.4" x2="389.8" y2="596.4" stroke="#555" stroke-width="1.1" />
<line x1="679.2" y1="596.4" x2="677.2" y2="596.4" stroke="#555" stroke-width="1.1" />
<line x1="391.8" y1="578.22" x2="387.6" y2="578.22" stroke="#555" stroke-width="1.1" />
<line x1="679.2" y1="578.22" x2="675" y2="578.22" stroke="#555" stroke-width="1.1" />
<line x1="391.8" y1="560.04" x2="389.8" y2="560.04" stroke="#555" stroke-width="1.1" />
<line x1="679.2" y1="560.04" x2="677.2" y2="560.04" stroke="#555" stroke-width="1.1" />
<line x1="391.8" y1="541.86" x2="387.6" y2="541.86" stroke="#555" stroke-width="1.1" />
<line x1="679.2" y1="541.86" x2="675" y2="541.86" stroke="#555" stroke-width="1.1" />
<line x1="391.8" y1="523.68" x2="389.8" y2="523.68" stroke="#555" stroke-width="1.1" />
<line x1="679.2" y1="523.68" x2="677.2" y2="523.68" stroke="#555" stroke-width="1.1" />
<line x1="391.8" y1="505.5" x2="387.6" y2="505.5" stroke="#555" stroke-width="1.1" />
<line x1="679.2" y1="505.5" x2="675" y2="505.5" stroke="#555" stroke-width="1.1" />
<text x="391.8" y="701.2" font-size="10" text-anchor="middle" fill="#333" stroke="#333" stroke-width="0.2">0</text>
<text x="420.54" y="701.2" font-size="10" text-anchor="middle" fill="#333" stroke="#333" stroke-width="0.2">0.1</text>
<text x="449.28" y="701.2" font-size="10" text-anchor="middle" fill="#333" stroke="#333" stroke-width="0.2">0.2</text>
<text x="478.02" y="701.2" font-size="10" text-anchor="middle" fill="#333" stroke="#333" stroke-width="0.2">0.3</text>
<text x="506.76" y="701.2" font-size="10" text-anchor="middle" fill="#333" stroke="#333" stroke-width="0.2">0.4</text>
<text x="535.5" y="701.2" font-size="10" text-anchor="middle" fill="#333" stroke="#333" stroke-width="0.2">0.5</text>
<text x="564.24" y="701.2" font-size="10" text-anchor="middle" fill="#333" stroke="#333" stroke-width="0.2">0.6</text>
<text x="592.98" y="701.2" font-size="10" text-anchor="middle" fill="#333" stroke="#333" stroke-width="0.2">0.7</text>
<text x="621.72" y="701.2" font-size="10" text-anchor="middle" fill="#333" stroke="#333" stroke-width="0.2">0.8</text>
<text x="650.46" y="701.2" font-size="10" text-anchor="middle" fill="#333" stroke="#333" stroke-width="0.2">0.9</text>
<text x="679.2" y="701.2" font-size="10" text-anchor="middle" fill="#333" stroke="#333" stroke-width="0.2">1</text>
<text x="385.2" y="690.8" font-size="10" text-anchor="end" fill="#333" stroke="#333" stroke-width="0.2">0</text>
<text x="385.2" y="654.44" font-size="10" text-anchor="end" fill="#333" stroke="#333" stroke-width="0.2">0.2</text>
<text x="385.2" y="618.08" font-size="10" text-anchor="end" fill="#333" stroke="#333" stroke-width="0.2">0.4</text>
<text x="385.2" y="581.72" font-size="10" text-anchor="end" fill="#333" stroke="#333" stroke-width="0.2">0.6</text>
<text x="385.2" y="545.36" font-size="10" text-anchor="end" fill="#333" stroke="#333" stroke-width="0.2">0.8</text>
<text x="385.2" y="509" font-size="10" text-anchor="end" fill="#333" stroke="#333" stroke-width="0.2">1</text>
<g clip-path="url(#cf)">
<polyline points="391.8,656.39 406.17,647.3 420.54,636.21 434.91,630.58 449.28,628.03 463.65,640.03 478.02,612.4 492.39,605.13 506.76,505.5 521.13,505.5 535.5,505.5 549.87,505.5 564.24,505.5 578.61,505.5 592.98,505.5 607.35,505.5 621.72,505.5 636.09,505.5 650.46,505.5 664.83,505.5 679.2,505.5" fill="none" stroke="#77437f" stroke-width="1.9" stroke-linejoin="round" />
<circle cx="391.8" cy="656.39" r="3.3" fill="#fff" stroke="#77437f" stroke-width="1.1"/>
<circle cx="406.17" cy="647.3" r="3.3" fill="#fff" stroke="#77437f" stroke-width="1.1"/>
<circle cx="420.54" cy="636.21" r="3.3" fill="#fff" stroke="#77437f" stroke-width="1.1"/>
<circle cx="434.91" cy="630.58" r="3.3" fill="#fff" stroke="#77437f" stroke-width="1.1"/>
<circle cx="449.28" cy="628.03" r="3.3" fill="#fff" stroke="#77437f" stroke-width="1.1"/>
<circle cx="463.65" cy="640.03" r="3.3" fill="#fff" stroke="#77437f" stroke-width="1.1"/>
<circle cx="478.02" cy="612.4" r="3.3" fill="#fff" stroke="#77437f" stroke-width="1.1"/>
<circle cx="492.39" cy="605.13" r="3.3" fill="#fff" stroke="#77437f" stroke-width="1.1"/>
<circle cx="506.76" cy="505.5" r="3.3" fill="#fff" stroke="#77437f" stroke-width="1.1"/>
<circle cx="521.13" cy="505.5" r="3.3" fill="#fff" stroke="#77437f" stroke-width="1.1"/>
<circle cx="535.5" cy="505.5" r="3.3" fill="#fff" stroke="#77437f" stroke-width="1.1"/>
<circle cx="549.87" cy="505.5" r="3.3" fill="#fff" stroke="#77437f" stroke-width="1.1"/>
<circle cx="564.24" cy="505.5" r="3.3" fill="#fff" stroke="#77437f" stroke-width="1.1"/>
<circle cx="578.61" cy="505.5" r="3.3" fill="#fff" stroke="#77437f" stroke-width="1.1"/>
<circle cx="592.98" cy="505.5" r="3.3" fill="#fff" stroke="#77437f" stroke-width="1.1"/>
<circle cx="607.35" cy="505.5" r="3.3" fill="#fff" stroke="#77437f" stroke-width="1.1"/>
<circle cx="621.72" cy="505.5" r="3.3" fill="#fff" stroke="#77437f" stroke-width="1.1"/>
<circle cx="636.09" cy="505.5" r="3.3" fill="#fff" stroke="#77437f" stroke-width="1.1"/>
<circle cx="650.46" cy="505.5" r="3.3" fill="#fff" stroke="#77437f" stroke-width="1.1"/>
<circle cx="664.83" cy="505.5" r="3.3" fill="#fff" stroke="#77437f" stroke-width="1.1"/>
<circle cx="679.2" cy="505.5" r="3.3" fill="#fff" stroke="#77437f" stroke-width="1.1"/>
<polyline points="391.8,658.58 406.17,653.67 420.54,652.94 434.91,648.58 449.28,622.76 463.65,651.67 478.02,634.94 492.39,610.94 506.76,505.5 521.13,505.5 535.5,505.5 549.87,505.5 564.24,505.5 578.61,505.5 592.98,505.5 607.35,505.5 621.72,505.5 636.09,505.5 650.46,505.5 664.83,505.5 679.2,505.5" fill="none" stroke="#e8896c" stroke-width="1.9" stroke-linejoin="round" />
<circle cx="391.8" cy="658.58" r="3.3" fill="#fff" stroke="#e8896c" stroke-width="1.1"/>
<circle cx="406.17" cy="653.67" r="3.3" fill="#fff" stroke="#e8896c" stroke-width="1.1"/>
<circle cx="420.54" cy="652.94" r="3.3" fill="#fff" stroke="#e8896c" stroke-width="1.1"/>
<circle cx="434.91" cy="648.58" r="3.3" fill="#fff" stroke="#e8896c" stroke-width="1.1"/>
<circle cx="449.28" cy="622.76" r="3.3" fill="#fff" stroke="#e8896c" stroke-width="1.1"/>
<circle cx="463.65" cy="651.67" r="3.3" fill="#fff" stroke="#e8896c" stroke-width="1.1"/>
<circle cx="478.02" cy="634.94" r="3.3" fill="#fff" stroke="#e8896c" stroke-width="1.1"/>
<circle cx="492.39" cy="610.94" r="3.3" fill="#fff" stroke="#e8896c" stroke-width="1.1"/>
<circle cx="506.76" cy="505.5" r="3.3" fill="#fff" stroke="#e8896c" stroke-width="1.1"/>
<circle cx="521.13" cy="505.5" r="3.3" fill="#fff" stroke="#e8896c" stroke-width="1.1"/>
<circle cx="535.5" cy="505.5" r="3.3" fill="#fff" stroke="#e8896c" stroke-width="1.1"/>
<circle cx="549.87" cy="505.5" r="3.3" fill="#fff" stroke="#e8896c" stroke-width="1.1"/>
<circle cx="564.24" cy="505.5" r="3.3" fill="#fff" stroke="#e8896c" stroke-width="1.1"/>
<circle cx="578.61" cy="505.5" r="3.3" fill="#fff" stroke="#e8896c" stroke-width="1.1"/>
<circle cx="592.98" cy="505.5" r="3.3" fill="#fff" stroke="#e8896c" stroke-width="1.1"/>
<circle cx="607.35" cy="505.5" r="3.3" fill="#fff" stroke="#e8896c" stroke-width="1.1"/>
<circle cx="621.72" cy="505.5" r="3.3" fill="#fff" stroke="#e8896c" stroke-width="1.1"/>
<circle cx="636.09" cy="505.5" r="3.3" fill="#fff" stroke="#e8896c" stroke-width="1.1"/>
<circle cx="650.46" cy="505.5" r="3.3" fill="#fff" stroke="#e8896c" stroke-width="1.1"/>
<circle cx="664.83" cy="505.5" r="3.3" fill="#fff" stroke="#e8896c" stroke-width="1.1"/>
<circle cx="679.2" cy="505.5" r="3.3" fill="#fff" stroke="#e8896c" stroke-width="1.1"/>
<polyline points="391.8,649.3 406.17,666.03 420.54,641.12 434.91,644.03 449.28,652.94 463.65,641.67 478.02,618.58 492.39,616.4 506.76,607.67 521.13,617.13 535.5,505.5 549.87,505.5 564.24,505.5 578.61,505.5 592.98,505.5 607.35,505.5 621.72,505.5 636.09,505.5 650.46,505.5 664.83,505.5 679.2,505.5" fill="none" stroke="#2e2e2e" stroke-width="1.9" stroke-linejoin="round" />
<circle cx="391.8" cy="649.3" r="3.3" fill="#fff" stroke="#2e2e2e" stroke-width="1.1"/>
<circle cx="406.17" cy="666.03" r="3.3" fill="#fff" stroke="#2e2e2e" stroke-width="1.1"/>
<circle cx="420.54" cy="641.12" r="3.3" fill="#fff" stroke="#2e2e2e" stroke-width="1.1"/>
<circle cx="434.91" cy="644.03" r="3.3" fill="#fff" stroke="#2e2e2e" stroke-width="1.1"/>
<circle cx="449.28" cy="652.94" r="3.3" fill="#fff" stroke="#2e2e2e" stroke-width="1.1"/>
<circle cx="463.65" cy="641.67" r="3.3" fill="#fff" stroke="#2e2e2e" stroke-width="1.1"/>
<circle cx="478.02" cy="618.58" r="3.3" fill="#fff" stroke="#2e2e2e" stroke-width="1.1"/>
<circle cx="492.39" cy="616.4" r="3.3" fill="#fff" stroke="#2e2e2e" stroke-width="1.1"/>
<circle cx="506.76" cy="607.67" r="3.3" fill="#fff" stroke="#2e2e2e" stroke-width="1.1"/>
<circle cx="521.13" cy="617.13" r="3.3" fill="#fff" stroke="#2e2e2e" stroke-width="1.1"/>
<circle cx="535.5" cy="505.5" r="3.3" fill="#fff" stroke="#2e2e2e" stroke-width="1.1"/>
<circle cx="549.87" cy="505.5" r="3.3" fill="#fff" stroke="#2e2e2e" stroke-width="1.1"/>
<circle cx="564.24" cy="505.5" r="3.3" fill="#fff" stroke="#2e2e2e" stroke-width="1.1"/>
<circle cx="578.61" cy="505.5" r="3.3" fill="#fff" stroke="#2e2e2e" stroke-width="1.1"/>
<circle cx="592.98" cy="505.5" r="3.3" fill="#fff" stroke="#2e2e2e" stroke-width="1.1"/>
<circle cx="607.35" cy="505.5" r="3.3" fill="#fff" stroke="#2e2e2e" stroke-width="1.1"/>
<circle cx="621.72" cy="505.5" r="3.3" fill="#fff" stroke="#2e2e2e" stroke-width="1.1"/>
<circle cx="636.09" cy="505.5" r="3.3" fill="#fff" stroke="#2e2e2e" stroke-width="1.1"/>
<circle cx="650.46" cy="505.5" r="3.3" fill="#fff" stroke="#2e2e2e" stroke-width="1.1"/>
<circle cx="664.83" cy="505.5" r="3.3" fill="#fff" stroke="#2e2e2e" stroke-width="1.1"/>
<circle cx="679.2" cy="505.5" r="3.3" fill="#fff" stroke="#2e2e2e" stroke-width="1.1"/>
<polyline points="391.8,634.94 406.17,651.12 420.54,646.21 434.91,636.76 449.28,638.03 463.65,609.13 478.02,628.58 492.39,622.58 506.76,605.49 521.13,593.31 535.5,505.5 549.87,505.5 564.24,505.5 578.61,505.5 592.98,505.5 607.35,505.5 621.72,505.5 636.09,505.5 650.46,505.5 664.83,505.5 679.2,505.5" fill="none" stroke="#3a9486" stroke-width="1.9" stroke-linejoin="round" />
<circle cx="391.8" cy="634.94" r="3.3" fill="#fff" stroke="#3a9486" stroke-width="1.1"/>
<circle cx="406.17" cy="651.12" r="3.3" fill="#fff" stroke="#3a9486" stroke-width="1.1"/>
<circle cx="420.54" cy="646.21" r="3.3" fill="#fff" stroke="#3a9486" stroke-width="1.1"/>
<circle cx="434.91" cy="636.76" r="3.3" fill="#fff" stroke="#3a9486" stroke-width="1.1"/>
<circle cx="449.28" cy="638.03" r="3.3" fill="#fff" stroke="#3a9486" stroke-width="1.1"/>
<circle cx="463.65" cy="609.13" r="3.3" fill="#fff" stroke="#3a9486" stroke-width="1.1"/>
<circle cx="478.02" cy="628.58" r="3.3" fill="#fff" stroke="#3a9486" stroke-width="1.1"/>
<circle cx="492.39" cy="622.58" r="3.3" fill="#fff" stroke="#3a9486" stroke-width="1.1"/>
<circle cx="506.76" cy="605.49" r="3.3" fill="#fff" stroke="#3a9486" stroke-width="1.1"/>
<circle cx="521.13" cy="593.31" r="3.3" fill="#fff" stroke="#3a9486" stroke-width="1.1"/>
<circle cx="535.5" cy="505.5" r="3.3" fill="#fff" stroke="#3a9486" stroke-width="1.1"/>
<circle cx="549.87" cy="505.5" r="3.3" fill="#fff" stroke="#3a9486" stroke-width="1.1"/>
<circle cx="564.24" cy="505.5" r="3.3" fill="#fff" stroke="#3a9486" stroke-width="1.1"/>
<circle cx="578.61" cy="505.5" r="3.3" fill="#fff" stroke="#3a9486" stroke-width="1.1"/>
<circle cx="592.98" cy="505.5" r="3.3" fill="#fff" stroke="#3a9486" stroke-width="1.1"/>
<circle cx="607.35" cy="505.5" r="3.3" fill="#fff" stroke="#3a9486" stroke-width="1.1"/>
<circle cx="621.72" cy="505.5" r="3.3" fill="#fff" stroke="#3a9486" stroke-width="1.1"/>
<circle cx="636.09" cy="505.5" r="3.3" fill="#fff" stroke="#3a9486" stroke-width="1.1"/>
<circle cx="650.46" cy="505.5" r="3.3" fill="#fff" stroke="#3a9486" stroke-width="1.1"/>
<circle cx="664.83" cy="505.5" r="3.3" fill="#fff" stroke="#3a9486" stroke-width="1.1"/>
<circle cx="679.2" cy="505.5" r="3.3" fill="#fff" stroke="#3a9486" stroke-width="1.1"/>
</g>
<rect x="391.8" y="503.7" width="287.4" height="183.6" fill="none" stroke="#555" stroke-width="1.4"/>
<line x1="556.1" y1="524.9" x2="583.7" y2="524.9" stroke="#77437f" stroke-width="1.8" />
<circle cx="569.9" cy="524.9" r="3.1" fill="#fff" stroke="#77437f" stroke-width="0.9"/>
<text transform="translate(587,528.4) scale(1.13,1)" font-size="10.2" fill="#222" stroke="#222" stroke-width="0.2">N =</text>
<text transform="translate(641.8,528.4) scale(1.12,1)" font-size="10.2" text-anchor="end" fill="#222" stroke="#222" stroke-width="0.2">1000</text>
<text transform="translate(645.3,528.4) scale(1.14,1)" font-size="10.2" fill="#222">(G<tspan font-size="6.5" dy="2.4">1</tspan><tspan dy="-2.4">)</tspan></text>
<line x1="556.1" y1="540.8" x2="583.7" y2="540.8" stroke="#e8896c" stroke-width="1.8" />
<circle cx="569.9" cy="540.8" r="3.1" fill="#fff" stroke="#e8896c" stroke-width="0.9"/>
<text transform="translate(587,544.3) scale(1.13,1)" font-size="10.2" fill="#222" stroke="#222" stroke-width="0.2">N =</text>
<text transform="translate(641.8,544.3) scale(1.12,1)" font-size="10.2" text-anchor="end" fill="#222" stroke="#222" stroke-width="0.2">2000</text>
<text transform="translate(645.3,544.3) scale(1.14,1)" font-size="10.2" fill="#222">(G<tspan font-size="6.5" dy="2.4">1</tspan><tspan dy="-2.4">)</tspan></text>
<line x1="556.1" y1="556.7" x2="583.7" y2="556.7" stroke="#2e2e2e" stroke-width="1.8" />
<circle cx="569.9" cy="556.7" r="3.1" fill="#fff" stroke="#2e2e2e" stroke-width="0.9"/>
<text transform="translate(587,560.2) scale(1.13,1)" font-size="10.2" fill="#222" stroke="#222" stroke-width="0.2">N =</text>
<text transform="translate(641.8,560.2) scale(1.12,1)" font-size="10.2" text-anchor="end" fill="#222" stroke="#222" stroke-width="0.2">3000</text>
<text transform="translate(645.3,560.2) scale(1.14,1)" font-size="10.2" fill="#222">(G<tspan font-size="6.5" dy="2.4">1</tspan><tspan dy="-2.4">)</tspan></text>
<line x1="556.1" y1="572.6" x2="583.7" y2="572.6" stroke="#3a9486" stroke-width="1.8" />
<circle cx="569.9" cy="572.6" r="3.1" fill="#fff" stroke="#3a9486" stroke-width="0.9"/>
<text transform="translate(587,576.1) scale(1.13,1)" font-size="10.2" fill="#222" stroke="#222" stroke-width="0.2">N =</text>
<text transform="translate(641.8,576.1) scale(1.12,1)" font-size="10.2" text-anchor="end" fill="#222" stroke="#222" stroke-width="0.2">10000</text>
<text transform="translate(645.3,576.1) scale(1.14,1)" font-size="10.2" fill="#222">(G<tspan font-size="6.5" dy="2.4">1</tspan><tspan dy="-2.4">)</tspan></text>
<rect x="552.4" y="590.6" width="117.1" height="76.5" fill="#fff" stroke="#8a8a8a" stroke-width="1"/>
<line x1="553.1" y1="667" x2="553.1" y2="664.8" stroke="#777" stroke-width="0.8" />
<line x1="553.1" y1="590.6" x2="553.1" y2="592.8" stroke="#777" stroke-width="0.8" />
<line x1="564.3" y1="667" x2="564.3" y2="664.8" stroke="#777" stroke-width="0.8" />
<line x1="564.3" y1="590.6" x2="564.3" y2="592.8" stroke="#777" stroke-width="0.8" />
<line x1="575.5" y1="667" x2="575.5" y2="664.8" stroke="#777" stroke-width="0.8" />
<line x1="575.5" y1="590.6" x2="575.5" y2="592.8" stroke="#777" stroke-width="0.8" />
<line x1="586.7" y1="667" x2="586.7" y2="664.8" stroke="#777" stroke-width="0.8" />
<line x1="586.7" y1="590.6" x2="586.7" y2="592.8" stroke="#777" stroke-width="0.8" />
<line x1="597.9" y1="667" x2="597.9" y2="664.8" stroke="#777" stroke-width="0.8" />
<line x1="597.9" y1="590.6" x2="597.9" y2="592.8" stroke="#777" stroke-width="0.8" />
<line x1="609.1" y1="667" x2="609.1" y2="664.8" stroke="#777" stroke-width="0.8" />
<line x1="609.1" y1="590.6" x2="609.1" y2="592.8" stroke="#777" stroke-width="0.8" />
<line x1="620.3" y1="667" x2="620.3" y2="664.8" stroke="#777" stroke-width="0.8" />
<line x1="620.3" y1="590.6" x2="620.3" y2="592.8" stroke="#777" stroke-width="0.8" />
<line x1="631.5" y1="667" x2="631.5" y2="664.8" stroke="#777" stroke-width="0.8" />
<line x1="631.5" y1="590.6" x2="631.5" y2="592.8" stroke="#777" stroke-width="0.8" />
<line x1="642.7" y1="667" x2="642.7" y2="664.8" stroke="#777" stroke-width="0.8" />
<line x1="642.7" y1="590.6" x2="642.7" y2="592.8" stroke="#777" stroke-width="0.8" />
<line x1="653.9" y1="667" x2="653.9" y2="664.8" stroke="#777" stroke-width="0.8" />
<line x1="653.9" y1="590.6" x2="653.9" y2="592.8" stroke="#777" stroke-width="0.8" />
<line x1="665.1" y1="667" x2="665.1" y2="664.8" stroke="#777" stroke-width="0.8" />
<line x1="665.1" y1="590.6" x2="665.1" y2="592.8" stroke="#777" stroke-width="0.8" />
<line x1="552.4" y1="666.2" x2="554.9" y2="666.2" stroke="#777" stroke-width="0.8" />
<line x1="669.5" y1="666.2" x2="667" y2="666.2" stroke="#777" stroke-width="0.8" />
<line x1="552.4" y1="659" x2="553.9" y2="659" stroke="#777" stroke-width="0.8" />
<line x1="669.5" y1="659" x2="668" y2="659" stroke="#777" stroke-width="0.8" />
<line x1="552.4" y1="651.8" x2="554.9" y2="651.8" stroke="#777" stroke-width="0.8" />
<line x1="669.5" y1="651.8" x2="667" y2="651.8" stroke="#777" stroke-width="0.8" />
<line x1="552.4" y1="644.6" x2="553.9" y2="644.6" stroke="#777" stroke-width="0.8" />
<line x1="669.5" y1="644.6" x2="668" y2="644.6" stroke="#777" stroke-width="0.8" />
<line x1="552.4" y1="637.4" x2="554.9" y2="637.4" stroke="#777" stroke-width="0.8" />
<line x1="669.5" y1="637.4" x2="667" y2="637.4" stroke="#777" stroke-width="0.8" />
<line x1="552.4" y1="630.2" x2="553.9" y2="630.2" stroke="#777" stroke-width="0.8" />
<line x1="669.5" y1="630.2" x2="668" y2="630.2" stroke="#777" stroke-width="0.8" />
<line x1="552.4" y1="623" x2="554.9" y2="623" stroke="#777" stroke-width="0.8" />
<line x1="669.5" y1="623" x2="667" y2="623" stroke="#777" stroke-width="0.8" />
<line x1="552.4" y1="615.8" x2="553.9" y2="615.8" stroke="#777" stroke-width="0.8" />
<line x1="669.5" y1="615.8" x2="668" y2="615.8" stroke="#777" stroke-width="0.8" />
<line x1="552.4" y1="608.6" x2="554.9" y2="608.6" stroke="#777" stroke-width="0.8" />
<line x1="669.5" y1="608.6" x2="667" y2="608.6" stroke="#777" stroke-width="0.8" />
<line x1="552.4" y1="601.4" x2="553.9" y2="601.4" stroke="#777" stroke-width="0.8" />
<line x1="669.5" y1="601.4" x2="668" y2="601.4" stroke="#777" stroke-width="0.8" />
<line x1="552.4" y1="594.2" x2="554.9" y2="594.2" stroke="#777" stroke-width="0.8" />
<line x1="669.5" y1="594.2" x2="667" y2="594.2" stroke="#777" stroke-width="0.8" />
<text x="550" y="669.8" font-size="10.3" text-anchor="end" fill="#1e1e1e" stroke="#1e1e1e" stroke-width="0.2">0.0</text>
<text x="552.2" y="678" font-size="10.3" text-anchor="middle" fill="#1e1e1e" stroke="#1e1e1e" stroke-width="0.15">0.0</text>
<text x="550" y="655.4" font-size="10.3" text-anchor="end" fill="#1e1e1e" stroke="#1e1e1e" stroke-width="0.2">0.2</text>
<text x="574.6" y="678" font-size="10.3" text-anchor="middle" fill="#1e1e1e" stroke="#1e1e1e" stroke-width="0.15">0.2</text>
<text x="550" y="641" font-size="10.3" text-anchor="end" fill="#1e1e1e" stroke="#1e1e1e" stroke-width="0.2">0.4</text>
<text x="597" y="678" font-size="10.3" text-anchor="middle" fill="#1e1e1e" stroke="#1e1e1e" stroke-width="0.15">0.4</text>
<text x="550" y="626.6" font-size="10.3" text-anchor="end" fill="#1e1e1e" stroke="#1e1e1e" stroke-width="0.2">0.6</text>
<text x="619.4" y="678" font-size="10.3" text-anchor="middle" fill="#1e1e1e" stroke="#1e1e1e" stroke-width="0.15">0.6</text>
<text x="550" y="612.2" font-size="10.3" text-anchor="end" fill="#1e1e1e" stroke="#1e1e1e" stroke-width="0.2">0.8</text>
<text x="641.8" y="678" font-size="10.3" text-anchor="middle" fill="#1e1e1e" stroke="#1e1e1e" stroke-width="0.15">0.8</text>
<text x="550" y="597.8" font-size="10.3" text-anchor="end" fill="#1e1e1e" stroke="#1e1e1e" stroke-width="0.2">1.0</text>
<text x="664.2" y="678" font-size="10.3" text-anchor="middle" fill="#1e1e1e" stroke="#1e1e1e" stroke-width="0.15">1.0</text>
<defs><clipPath id="ci"><rect x="552.4" y="590.6" width="117.1" height="76.4"/></clipPath></defs><g clip-path="url(#ci)">
<polyline points="553.1,659 558.7,659 564.3,655.4 569.9,651.08 575.5,655.4 581.1,654.68 586.7,655.4 592.3,651.8 597.9,666.2" fill="none" stroke="#7d2c8c" stroke-width="1.3" stroke-linejoin="round" />
<circle cx="553.1" cy="659" r="2.6" fill="#7d2c8c"/>
<circle cx="558.7" cy="659" r="2.6" fill="#7d2c8c"/>
<circle cx="564.3" cy="655.4" r="2.6" fill="#7d2c8c"/>
<circle cx="569.9" cy="651.08" r="2.6" fill="#7d2c8c"/>
<circle cx="575.5" cy="655.4" r="2.6" fill="#7d2c8c"/>
<circle cx="581.1" cy="654.68" r="2.6" fill="#7d2c8c"/>
<circle cx="586.7" cy="655.4" r="2.6" fill="#7d2c8c"/>
<circle cx="592.3" cy="651.8" r="2.6" fill="#7d2c8c"/>
<circle cx="597.9" cy="666.2" r="2.6" fill="#7d2c8c"/>
<polyline points="553.1,664.76 558.7,661.88 564.3,659 569.9,656.12 575.5,657.56 581.1,658.28 586.7,655.4 592.3,651.8 597.9,666.2 603.5,666.2" fill="none" stroke="#e5603c" stroke-width="1.3" stroke-linejoin="round" />
<circle cx="553.1" cy="664.76" r="2.6" fill="#e5603c"/>
<circle cx="558.7" cy="661.88" r="2.6" fill="#e5603c"/>
<circle cx="564.3" cy="659" r="2.6" fill="#e5603c"/>
<circle cx="569.9" cy="656.12" r="2.6" fill="#e5603c"/>
<circle cx="575.5" cy="657.56" r="2.6" fill="#e5603c"/>
<circle cx="581.1" cy="658.28" r="2.6" fill="#e5603c"/>
<circle cx="586.7" cy="655.4" r="2.6" fill="#e5603c"/>
<circle cx="592.3" cy="651.8" r="2.6" fill="#e5603c"/>
<circle cx="597.9" cy="666.2" r="2.6" fill="#e5603c"/>
<circle cx="603.5" cy="666.2" r="2.6" fill="#e5603c"/>
<polyline points="553.1,656.84 558.7,659.72 564.3,657.56 569.9,659 575.5,659 581.1,655.4 586.7,658.28 592.3,649.64 597.9,646.04 603.5,644.6" fill="none" stroke="#000" stroke-width="1.3" stroke-linejoin="round" />
<circle cx="553.1" cy="656.84" r="2.6" fill="#000"/>
<circle cx="558.7" cy="659.72" r="2.6" fill="#000"/>
<circle cx="564.3" cy="657.56" r="2.6" fill="#000"/>
<circle cx="569.9" cy="659" r="2.6" fill="#000"/>
<circle cx="575.5" cy="659" r="2.6" fill="#000"/>
<circle cx="581.1" cy="655.4" r="2.6" fill="#000"/>
<circle cx="586.7" cy="658.28" r="2.6" fill="#000"/>
<circle cx="592.3" cy="649.64" r="2.6" fill="#000"/>
<circle cx="597.9" cy="646.04" r="2.6" fill="#000"/>
<circle cx="603.5" cy="644.6" r="2.6" fill="#000"/>
<polyline points="553.1,659 558.7,658.28 564.3,651.08 569.9,655.4 575.5,651.8 581.1,651.08 586.7,653.24 592.3,651.8 597.9,651.08 603.5,643.16 609.1,666.2 614.7,666.2 620.3,666.2 625.9,666.2 631.5,666.2 637.1,666.2 642.7,666.2 648.3,666.2 653.9,666.2 659.5,666.2 665.1,666.2" fill="none" stroke="#1a8a86" stroke-width="1.3" stroke-linejoin="round" />
<circle cx="553.1" cy="659" r="2.6" fill="#1a8a86"/>
<circle cx="558.7" cy="658.28" r="2.6" fill="#1a8a86"/>
<circle cx="564.3" cy="651.08" r="2.6" fill="#1a8a86"/>
<circle cx="569.9" cy="655.4" r="2.6" fill="#1a8a86"/>
<circle cx="575.5" cy="651.8" r="2.6" fill="#1a8a86"/>
<circle cx="581.1" cy="651.08" r="2.6" fill="#1a8a86"/>
<circle cx="586.7" cy="653.24" r="2.6" fill="#1a8a86"/>
<circle cx="592.3" cy="651.8" r="2.6" fill="#1a8a86"/>
<circle cx="597.9" cy="651.08" r="2.6" fill="#1a8a86"/>
<circle cx="603.5" cy="643.16" r="2.6" fill="#1a8a86"/>
<circle cx="609.1" cy="666.2" r="2.6" fill="#1a8a86"/>
<circle cx="614.7" cy="666.2" r="2.6" fill="#1a8a86"/>
<circle cx="620.3" cy="666.2" r="2.6" fill="#1a8a86"/>
<circle cx="625.9" cy="666.2" r="2.6" fill="#1a8a86"/>
<circle cx="631.5" cy="666.2" r="2.6" fill="#1a8a86"/>
<circle cx="637.1" cy="666.2" r="2.6" fill="#1a8a86"/>
<circle cx="642.7" cy="666.2" r="2.6" fill="#1a8a86"/>
<circle cx="648.3" cy="666.2" r="2.6" fill="#1a8a86"/>
<circle cx="653.9" cy="666.2" r="2.6" fill="#1a8a86"/>
<circle cx="659.5" cy="666.2" r="2.6" fill="#1a8a86"/>
<circle cx="665.1" cy="666.2" r="2.6" fill="#1a8a86"/>
</g>
<rect x="552.4" y="590.6" width="117.1" height="76.5" fill="none" stroke="#8a8a8a" stroke-width="1"/>
<line x1="588.9" y1="598.2" x2="608.6" y2="598.2" stroke="#7d2c8c" stroke-width="1.3" />
<circle cx="598.8" cy="598.2" r="2.6" fill="#7d2c8c"/>
<text x="610.6" y="601" font-size="7.8" fill="#1a1a1a" stroke="#1a1a1a" stroke-width="0.25">N =</text>
<text transform="translate(650.3,601) scale(1.08,1)" font-size="7.8" text-anchor="end" fill="#1a1a1a" stroke="#1a1a1a" stroke-width="0.25">1000</text>
<text x="652.3" y="601" font-size="7.8" fill="#1a1a1a" stroke="#1a1a1a" stroke-width="0.25">(G<tspan font-size="5" dy="1.8">2</tspan><tspan dy="-1.8">)</tspan></text>
<line x1="588.9" y1="609.9" x2="608.6" y2="609.9" stroke="#e5603c" stroke-width="1.3" />
<circle cx="598.8" cy="609.9" r="2.6" fill="#e5603c"/>
<text x="610.6" y="612.7" font-size="7.8" fill="#1a1a1a" stroke="#1a1a1a" stroke-width="0.25">N =</text>
<text transform="translate(650.3,612.7) scale(1.08,1)" font-size="7.8" text-anchor="end" fill="#1a1a1a" stroke="#1a1a1a" stroke-width="0.25">2000</text>
<text x="652.3" y="612.7" font-size="7.8" fill="#1a1a1a" stroke="#1a1a1a" stroke-width="0.25">(G<tspan font-size="5" dy="1.8">2</tspan><tspan dy="-1.8">)</tspan></text>
<line x1="588.9" y1="621.7" x2="608.6" y2="621.7" stroke="#000" stroke-width="1.3" />
<circle cx="598.8" cy="621.7" r="2.6" fill="#000"/>
<text x="610.6" y="624.5" font-size="7.8" fill="#1a1a1a" stroke="#1a1a1a" stroke-width="0.25">N =</text>
<text transform="translate(650.3,624.5) scale(1.08,1)" font-size="7.8" text-anchor="end" fill="#1a1a1a" stroke="#1a1a1a" stroke-width="0.25">3000</text>
<text x="652.3" y="624.5" font-size="7.8" fill="#1a1a1a" stroke="#1a1a1a" stroke-width="0.25">(G<tspan font-size="5" dy="1.8">2</tspan><tspan dy="-1.8">)</tspan></text>
<line x1="588.9" y1="632.9" x2="608.6" y2="632.9" stroke="#1a8a86" stroke-width="1.3" />
<circle cx="598.8" cy="632.9" r="2.6" fill="#1a8a86"/>
<text x="610.6" y="635.7" font-size="7.8" fill="#1a1a1a" stroke="#1a1a1a" stroke-width="0.25">N =</text>
<text transform="translate(650.3,635.7) scale(1.08,1)" font-size="7.8" text-anchor="end" fill="#1a1a1a" stroke="#1a1a1a" stroke-width="0.25">10000</text>
<text x="652.3" y="635.7" font-size="7.8" fill="#1a1a1a" stroke="#1a1a1a" stroke-width="0.25">(G<tspan font-size="5" dy="1.8">2</tspan><tspan dy="-1.8">)</tspan></text>
<text transform="translate(611.3,684.6) scale(1.15,1)" font-size="15" text-anchor="middle" font-family='"Liberation Serif", serif' fill="#222" stroke="#222" stroke-width="0.2">α</text>
<text transform="translate(526,637) rotate(-90)" font-size="12.5" text-anchor="middle" fill="#222" stroke="#222" stroke-width="0.2">G</text>
<text transform="translate(535.4,721.3) scale(1.1,1)" font-size="15.5" text-anchor="middle" font-family='"Liberation Serif", serif' fill="#222" stroke="#222" stroke-width="0.2">α</text>
<text transform="translate(361.4,603.2) rotate(-90)" font-size="12" text-anchor="middle" fill="#333" stroke="#333" stroke-width="0.2">G</text>
<text x="349.8" y="508.6" font-size="16" fill="#222" stroke="#222" stroke-width="0.2">(f)</text>
<text x="400.2" y="519.6" font-size="8.3" font-weight="bold" fill="#111" textLength="65" lengthAdjust="spacingAndGlyphs">RGG: &lt;<tspan font-style="italic">k</tspan>&gt; = 10</text>
<text x="398.2" y="537.6" font-size="12.6" fill="#222" textLength="99.7" lengthAdjust="spacingAndGlyphs">highest-load-node</text>
<text x="398.2" y="552.2" font-size="12.6" fill="#222" textLength="42.6" lengthAdjust="spacingAndGlyphs">removal</text>
</g>
</svg>
</body></html>
